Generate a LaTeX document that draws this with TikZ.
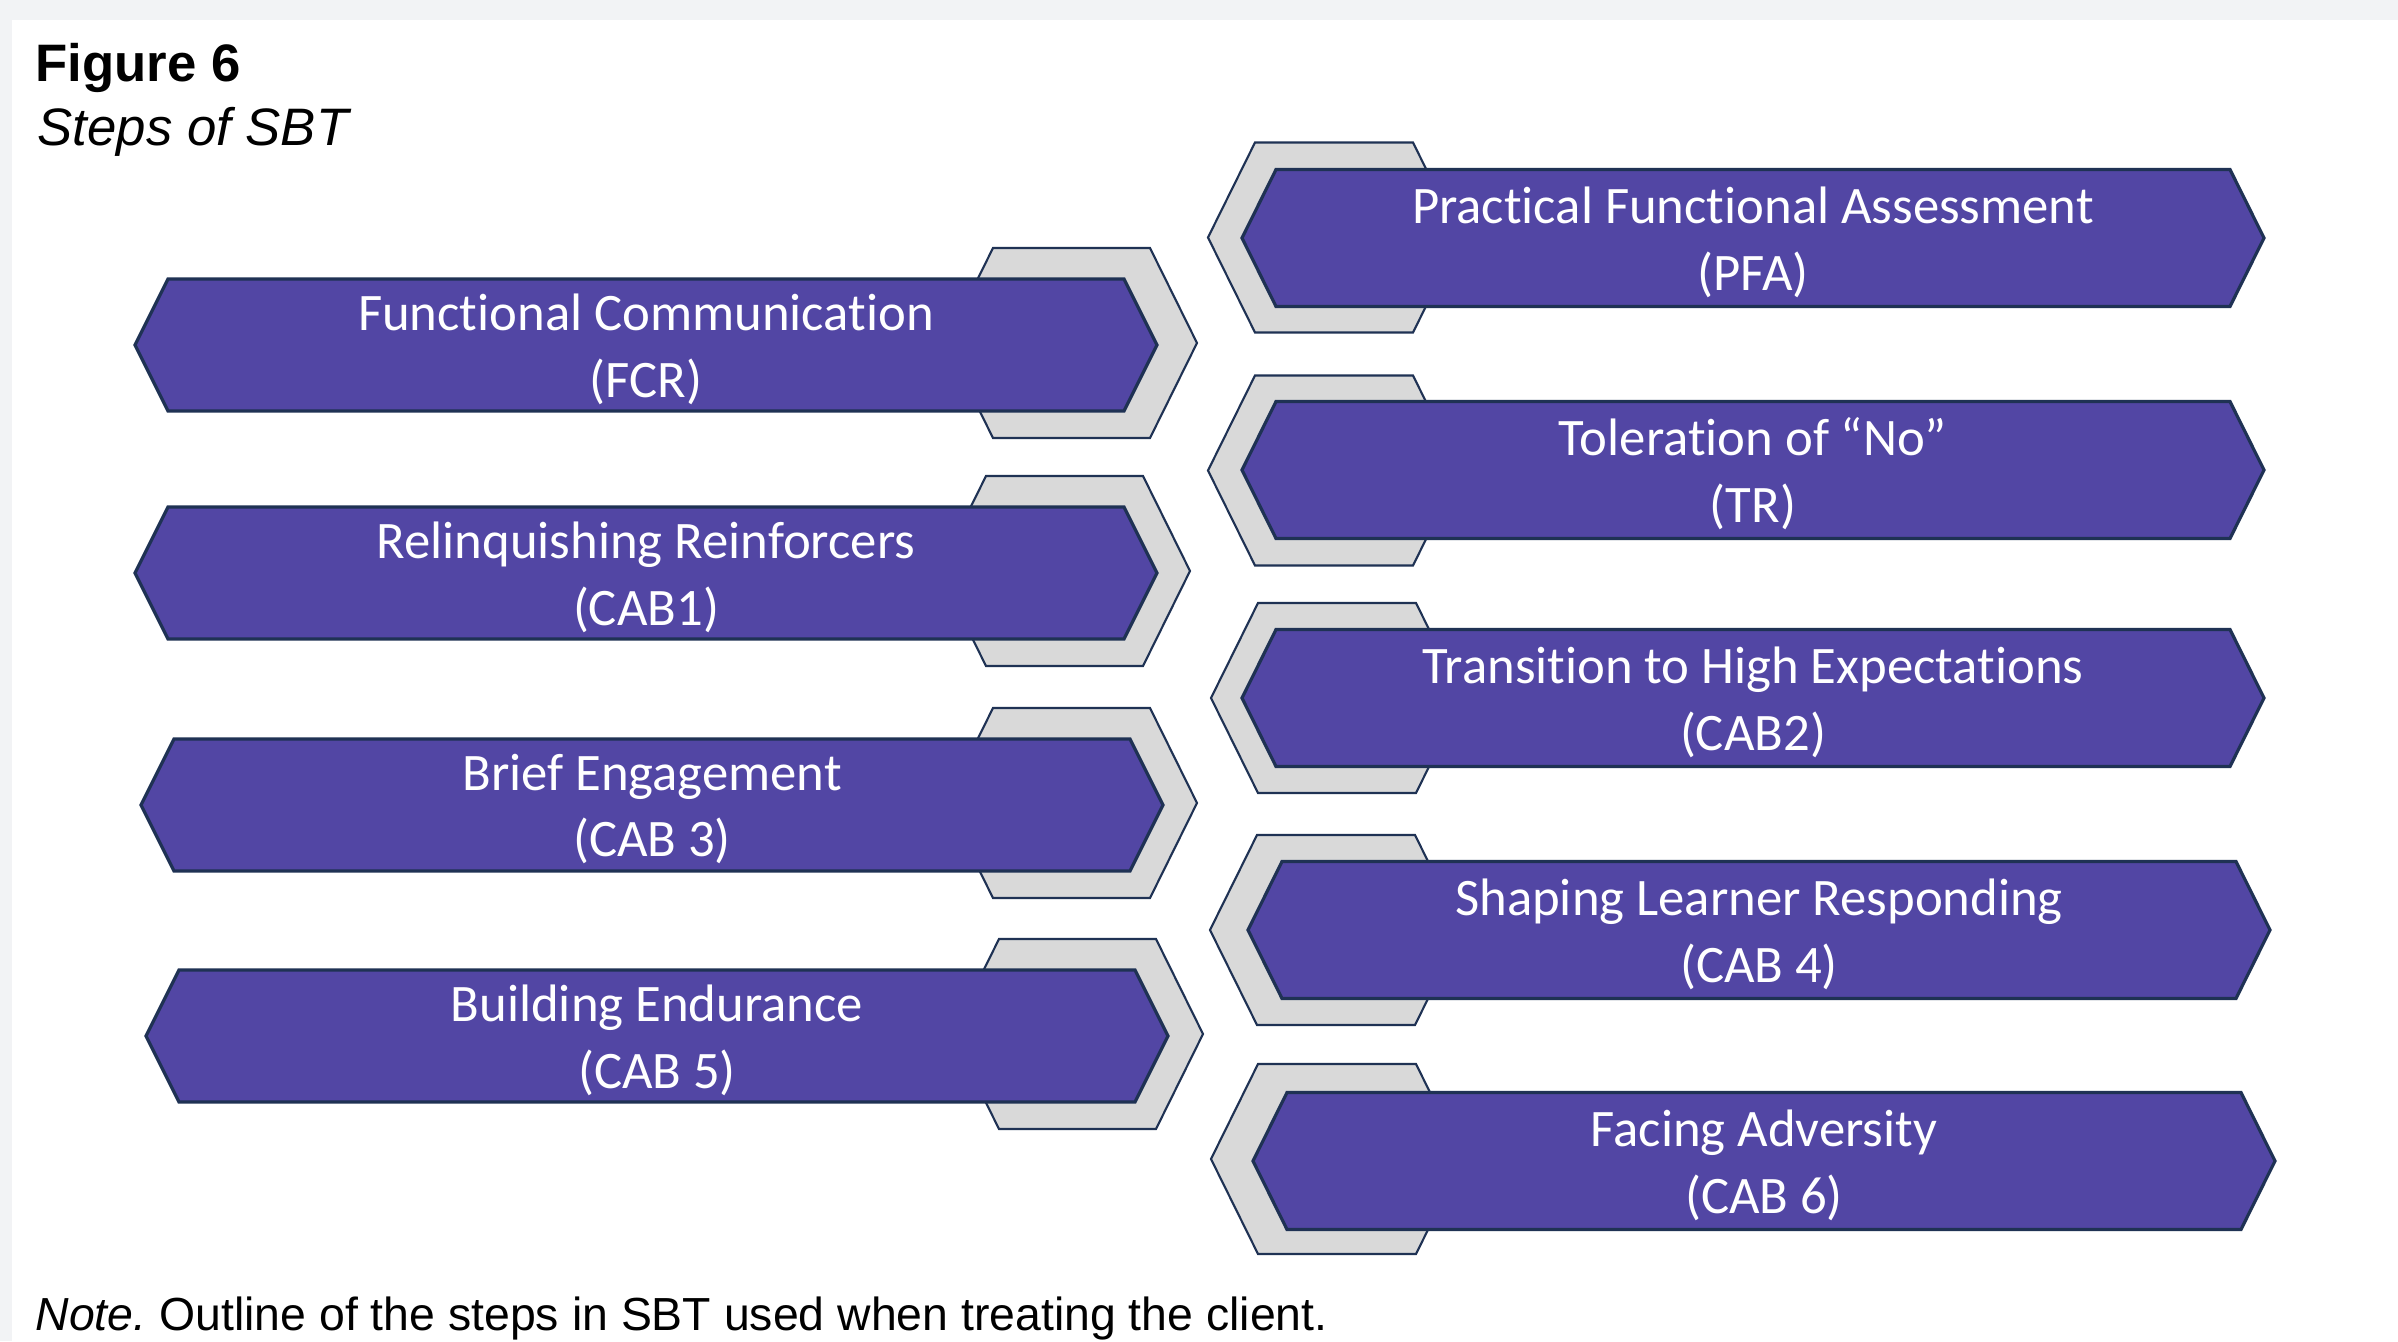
\documentclass[tikz,border=0pt]{standalone}
\usepackage{fontspec}
\setmainfont{Liberation Sans}
\newfontfamily\calibri[Ligatures=NoCommon]{Carlito}
\definecolor{steppurple}{RGB}{82,70,164}
\definecolor{stepgray}{RGB}{217,217,217}
\definecolor{stepline}{RGB}{31,50,84}
\definecolor{pagegray}{RGB}{242,243,245}
\frenchspacing

\begin{document}
\begin{tikzpicture}[
backhex/.style={fill=stepgray,draw=stepline,line width=0.6pt},
fronthex/.style={fill=steppurple,draw=stepline,line width=0.9pt},
steptext/.style={text=white,align=center,inner sep=0pt,yshift=-0.04cm,font=\calibri\fontsize{15}{19}\selectfont}]
\useasboundingbox (0,0) rectangle (23.98,13.41);
% page
\fill[pagegray] (0,0) rectangle (23.98,13.41);
\fill[white] (0.12,0) rectangle (23.98,13.21);
% caption
\node[anchor=base west,inner sep=0pt,font=\fontsize{15}{18}\selectfont\bfseries] (fig) at (0.35,12.593) {Figure 6};
\node[anchor=base west,inner sep=0pt,font=\fontsize{15}{18}\selectfont\itshape] (figtitle) at (0.37,11.953) {Steps of SBT};
% left column: tab sticks out on the right
\foreach \gx/\gy/\px/\py/\name/\txt in {
10.715/9.98/6.46/9.96/fcr/{Functional Communication\\(FCR)},
10.645/7.70/6.46/7.68/cab1/{Relinquishing Reinforcers\\(CAB1)},
10.715/5.38/6.52/5.36/cab3/{Brief Engagement\\(CAB 3)},
10.775/3.07/6.57/3.05/cab5/{Building Endurance\\(CAB 5)}}{
\draw[backhex] (\gx-1.255,\gy)--(\gx-0.785,\gy+0.95)--(\gx+0.785,\gy+0.95)--(\gx+1.255,\gy)--(\gx+0.785,\gy-0.95)--(\gx-0.785,\gy-0.95)--cycle;
\draw[fronthex] (\px-5.11,\py)--(\px-4.78,\py+0.66)--(\px+4.78,\py+0.66)--(\px+5.11,\py)--(\px+4.78,\py-0.66)--(\px-4.78,\py-0.66)--cycle;
\node[steptext] (\name) at (\px,\py) {\txt};
}
% right column: tab sticks out on the left
\foreach \gx/\gy/\px/\py/\name/\txt in {
13.34/11.035/17.53/11.03/pfa/{Practical Functional Assessment\\(PFA)},
13.34/8.705/17.53/8.71/tr/{Toleration of “No”\\(TR)},
13.37/6.43/17.53/6.43/cab2/{Transition to High Expectations\\(CAB2)},
13.36/4.11/17.59/4.11/cab4/{Shaping Learner Responding\\(CAB 4)},
13.37/1.82/17.64/1.80/cab6/{Facing Adversity\\(CAB 6)}}{
\draw[backhex] (\gx-1.26,\gy)--(\gx-0.79,\gy+0.95)--(\gx+0.79,\gy+0.95)--(\gx+1.26,\gy)--(\gx+0.79,\gy-0.95)--(\gx-0.79,\gy-0.95)--cycle;
\draw[fronthex] (\px-5.11,\py)--(\px-4.77,\py+0.685)--(\px+4.77,\py+0.685)--(\px+5.11,\py)--(\px+4.77,\py-0.685)--(\px-4.77,\py-0.685)--cycle;
\node[steptext] (\name) at (\px,\py) {\txt};
}
% note under the figure
\node[anchor=base west,inner sep=0pt,font=\fontsize{13.2}{16}\selectfont] (note) at (0.35,0.11) {\textit{Note.} Outline of the steps in SBT used when treating the client.};
\end{tikzpicture}
\end{document}
